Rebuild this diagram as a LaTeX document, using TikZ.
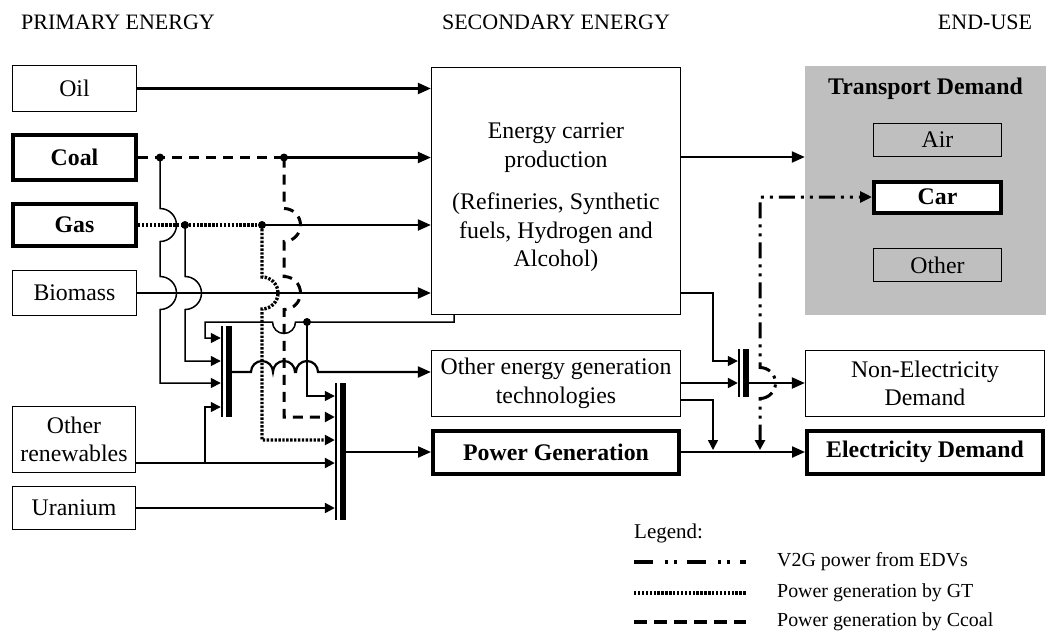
\documentclass[tikz,border=0pt]{standalone}
\usepackage{fontspec}
\setmainfont{Liberation Serif}
\usetikzlibrary{arrows.meta}
\newcommand\bodyfont{\fontsize{23.8}{28.5}\selectfont}
\newcommand\legfont{\fontsize{19.9}{24}\selectfont}
\newcommand\headfont{\fontsize{22}{26}\selectfont}
\begin{document}
\begin{tikzpicture}[x=1pt,y=-1pt,
  box/.style={draw, line width=1.3pt, inner sep=0pt, align=center, font=\bodyfont},
  tbox/.style={draw, line width=4pt, inner sep=0pt, align=center, font=\bodyfont\bfseries},
  txt/.style={inner sep=0pt, align=center, font=\bodyfont},
  hdr/.style={font=\headfont, inner sep=0pt},
  legtxt/.style={font=\legfont, inner sep=0pt, anchor=west},
  flow/.style={line width=2.2pt},
  feed/.style={line width=1.5pt},
  cdash/.style={line width=3pt, dash pattern=on 10pt off 7pt},
  gdot/.style={line width=3.4pt, dash pattern=on 2.4pt off 1.5pt},
  v2g/.style={line width=3pt, dash pattern=on 16pt off 6pt on 3pt off 6pt on 3pt off 6pt},
  legv2g/.style={line width=3.5pt, dash pattern=on 19pt off 12pt on 3pt off 6pt on 3pt off 10pt},
  legdash/.style={line width=3.5pt, dash pattern=on 13pt off 7pt},
  arr/.style={-{Triangle[length=13pt,width=11pt]}},
  sarr/.style={-{Triangle[length=10pt,width=10pt]}},
  busnode/.style={inner sep=0pt, minimum width=11pt},
  graybg/.style={fill=black!25},
]
\useasboundingbox (0,0) rectangle (1048,641);

% headers
\node[hdr] (h1) at (118,22) {PRIMARY ENERGY};
\node[hdr] (h2) at (556,22) {SECONDARY ENERGY};
\node[hdr] (h3) at (985,22) {END-USE};

% primary energy
\node[box, minimum width=124pt, minimum height=46pt] (oil) at (74.5,88.5) {Oil};
\node[tbox, minimum width=123pt, minimum height=45pt] (coal) at (74.5,157.5) {Coal};
\node[tbox, minimum width=123pt, minimum height=42pt] (gas) at (74.5,225) {Gas};
\node[box, minimum width=124pt, minimum height=45pt] (biomass) at (74.5,293) {Biomass};
\node[box, minimum width=123pt, minimum height=66pt] (otherren) at (74,439.5) {Other\\renewables};
\node[box, minimum width=123pt, minimum height=43pt] (uranium) at (74,508) {Uranium};

% secondary energy
\node[box, minimum width=249pt, minimum height=247pt] (carrier) at (556,191) {};
\node[txt] (carriertxt) at (556,197.5) {Energy carrier\\production\\[14pt](Refineries, Synthetic\\fuels, Hydrogen and\\Alcohol)};
\node[box, minimum width=249pt, minimum height=66pt] (othergen) at (556,383.5) {Other energy generation\\technologies};
\node[tbox, minimum width=246pt, minimum height=43pt] (powergen) at (556,452) {Power Generation};

% end use
\node[graybg, inner sep=0pt, minimum width=241pt, minimum height=249pt] (transport) at (925.5,190.5) {};
\node[txt, font=\bodyfont\bfseries] (transtitle) at (925.5,89) {Transport Demand};
\node[box, graybg, minimum width=128pt, minimum height=33pt] (air) at (937.5,140) {Air};
\node[tbox, fill=white, minimum width=127pt, minimum height=31pt] (car) at (937.5,197) {Car};
\node[box, graybg, minimum width=128pt, minimum height=33pt] (otherT) at (937.5,265) {Other};
\node[box, minimum width=239pt, minimum height=66pt] (nonelec) at (925,383.5) {Non-Electricity\\Demand};
\node[tbox, minimum width=236pt, minimum height=43pt] (elec) at (925,452) {Electricity Demand};

% bus bars
\node[busnode, minimum height=91pt] (bus1) at (226.5,371.5) {};
\node[busnode, minimum height=137pt] (bus2) at (340.5,451.5) {};
\node[busnode, minimum height=48pt] (bus3) at (743.5,373) {};
\foreach \b in {bus1,bus2,bus3}{
  \fill ([xshift=-6pt]\b.north east) rectangle (\b.south east);
  \draw[line width=1.5pt] ([xshift=1pt]\b.north west) -- ([xshift=1pt]\b.south west);
}

% junctions
\coordinate (jc1) at (160,157.5);
\coordinate (jc2) at (284,157.5);
\coordinate (jg1) at (185,225);
\coordinate (jg2) at (262,225);
\coordinate (jb) at (307,322);
\coordinate (jr) at (205,463);

% primary -> carrier
\draw[flow,arr] (oil.east) -- (oil.east -| carrier.west);
\draw[cdash] (coal.east) -- (jc2);
\draw[flow,arr] (jc2) -- (jc2 -| carrier.west);
\draw[gdot] (gas.east) -- (jg2);
\draw[flow,arr] (jg2) -- (jg2 -| carrier.west);
\draw[flow,arr] (biomass.east) -- (biomass.east -| carrier.west);

% feeds into bus 1
\draw[feed,sarr] (jc1) -- (160,208.5) arc[start angle=-90,end angle=90,radius=16.5]
  -- (160,276.5) arc[start angle=-90,end angle=90,radius=16.5]
  -- (160,383) -- (bus1.west |- 0,383);
\draw[feed,sarr] (jg1) -- (185,276.5) arc[start angle=-90,end angle=90,radius=16.5]
  -- (185,361) -- (bus1.west |- 0,361);
\draw[feed,sarr] (carrier.south -| 454,0) -- (454,322) -- (295.5,322)
  arc[start angle=0,end angle=180,radius=11.5] -- (205,322) -- (205,338) -- (bus1.west |- 0,338);
\draw[feed,sarr] (jr) -- (205,407) -- (bus1.west |- 0,407);

% feeds into bus 2
\draw[gdot,sarr] (jg2) -- (262,277) arc[start angle=-90,end angle=90,radius=16]
  -- (262,440) -- (bus2.west |- 0,440);
\draw[cdash,sarr] (jc2) -- (284,208.5) arc[start angle=-90,end angle=90,radius=16.5]
  -- (284,276.5) arc[start angle=-90,end angle=90,radius=16.5]
  -- (284,417) -- (bus2.west |- 0,417);
\draw[feed,sarr] (jb) -- (307,396) -- (bus2.west |- 0,396);
\draw[flow,sarr] (otherren.east |- 0,463) -- (bus2.west |- 0,463);
\draw[flow,sarr] (uranium.east) -- (bus2.west |- uranium.east);

% bus outputs
\draw[flow,arr] (bus1.east |- 0,372) -- (251,372)
  arc[start angle=180,end angle=360,radius=11]
  arc[start angle=180,end angle=360,radius=11]
  -- (296,372) arc[start angle=180,end angle=360,radius=11]
  -- (othergen.west |- 0,372);
\draw[flow,arr] (bus2.east |- powergen.west) -- (powergen.west);

% secondary -> end use
\draw[flow,arr] (carrier.east |- 0,157) -- (transport.west |- 0,157);
\draw[feed,sarr] (carrier.east |- 0,293) -- (713,293) -- (713,361) -- (bus3.west |- 0,361);
\draw[flow,sarr] (othergen.east |- 0,383) -- (bus3.west |- 0,383);
\draw[flow,arr] (bus3.east |- 0,383) -- (nonelec.west |- 0,383);
\draw[feed,sarr] (othergen.east |- 0,400) -- (713,400) -- (713,450);
\draw[flow,arr] (powergen.east) -- (elec.west);
\coordinate (v2gb) at (760,450);
\draw[v2g,{Triangle[length=10pt,width=10pt]}-{Triangle[length=12pt,width=11pt]}]
  (v2gb) -- (760,398.5) arc[start angle=90,end angle=-90,radius=15.5]
  -- (760,197) -- (car.west);

% dots
\foreach \j in {jc1,jc2,jg1,jg2,jb}{\fill (\j) circle[radius=4];}

% legend
\node[font=\fontsize{21}{25}\selectfont, inner sep=0pt, anchor=west] (legt) at (634,533) {Legend:};
\node[legtxt] (l1) at (777,562) {V2G power from EDVs};
\node[legtxt] (l2) at (777,593) {Power generation by GT};
\node[legtxt] (l3) at (777,622) {Power generation by Ccoal};
\draw[legv2g] (634,562) -- ([xshift=-31pt]l1.west);
\draw[gdot] (634,593) -- ([xshift=-31pt]l2.west);
\draw[legdash] (634,622) -- ([xshift=-31pt]l3.west);
\end{tikzpicture}
\end{document}
